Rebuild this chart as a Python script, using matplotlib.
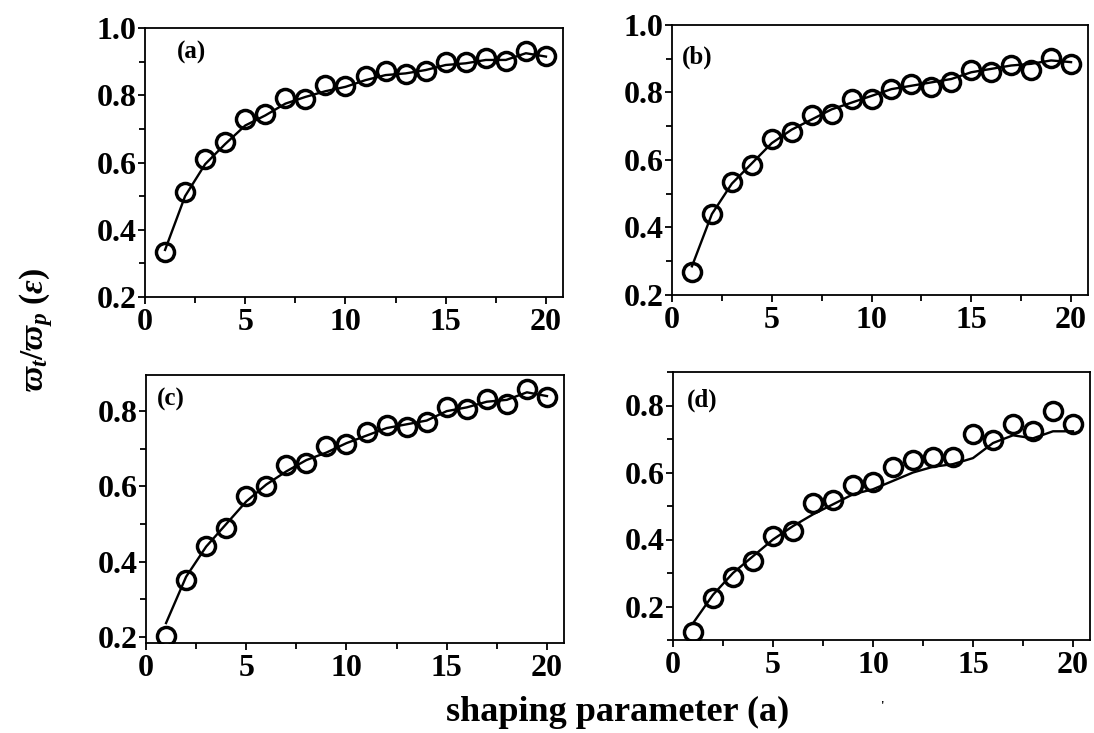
import matplotlib
matplotlib.use("Agg")
import matplotlib.pyplot as plt
from matplotlib.ticker import MultipleLocator

# shaping parameter values
a_vals = list(range(1, 21))

# measured ratios (open circles)
meas_a = [0.335, 0.511, 0.609, 0.661, 0.730, 0.743, 0.793, 0.790, 0.830, 0.828,
          0.856, 0.873, 0.863, 0.873, 0.900, 0.900, 0.910, 0.903, 0.933, 0.918]
meas_b = [0.267, 0.439, 0.534, 0.586, 0.661, 0.683, 0.733, 0.736, 0.781, 0.781,
          0.811, 0.826, 0.816, 0.831, 0.866, 0.861, 0.881, 0.866, 0.903, 0.883]
meas_c = [0.203, 0.351, 0.442, 0.489, 0.574, 0.601, 0.657, 0.661, 0.707, 0.714,
          0.745, 0.763, 0.758, 0.772, 0.811, 0.807, 0.831, 0.820, 0.860, 0.838]
meas_d = [0.123, 0.226, 0.288, 0.337, 0.411, 0.426, 0.509, 0.519, 0.564, 0.573,
          0.616, 0.637, 0.645, 0.647, 0.714, 0.697, 0.746, 0.724, 0.785, 0.744]

# model curves (solid lines)
model_a = [0.340, 0.500, 0.595, 0.655, 0.710, 0.740, 0.775, 0.795, 0.812, 0.825,
           0.845, 0.860, 0.865, 0.875, 0.890, 0.895, 0.905, 0.905, 0.925, 0.915]
model_b = [0.285, 0.440, 0.530, 0.590, 0.650, 0.690, 0.720, 0.750, 0.770, 0.790,
           0.810, 0.820, 0.830, 0.840, 0.860, 0.870, 0.880, 0.885, 0.895, 0.890]
model_c = [0.237, 0.360, 0.440, 0.500, 0.560, 0.605, 0.640, 0.670, 0.690, 0.715,
           0.735, 0.755, 0.765, 0.775, 0.800, 0.810, 0.825, 0.830, 0.850, 0.840]
model_d = [0.150, 0.235, 0.300, 0.350, 0.400, 0.440, 0.475, 0.505, 0.535, 0.550,
           0.575, 0.600, 0.617, 0.625, 0.643, 0.688, 0.711, 0.702, 0.723, 0.723]

panel_tags = ["(a)", "(b)", "(c)", "(d)"]
y_limits = [(0.2, 1.0), (0.2, 1.0), (0.184, 0.896), (0.1, 0.9)]
y_major = [[0.2, 0.4, 0.6, 0.8, 1.0], [0.2, 0.4, 0.6, 0.8, 1.0],
           [0.2, 0.4, 0.6, 0.8], [0.2, 0.4, 0.6, 0.8]]

plt.rcParams["font.family"] = ["Liberation Serif", "DejaVu Serif"]
plt.rcParams["font.weight"] = "bold"
plt.rcParams["mathtext.fontset"] = "custom"
plt.rcParams["mathtext.rm"] = "Liberation Serif:bold"
plt.rcParams["mathtext.it"] = "Liberation Serif:italic:bold"
plt.rcParams["mathtext.bf"] = "Liberation Serif:italic:bold"

fig = plt.figure(figsize=(10.94, 7.33), dpi=100)
W, H = 1094, 733
boxes = [(145, 28, 563, 297), (672, 25, 1088, 295),
         (146, 375, 564, 643), (673, 372, 1090, 640)]
tag_pos = [(0.077, 0.909), (0.024, 0.88), (0.026, 0.91), (0.034, 0.896)]

meas = [meas_a, meas_b, meas_c, meas_d]
model = [model_a, model_b, model_c, model_d]

for i in range(4):
    l, t, r, b = boxes[i]
    ax = fig.add_axes([l / W, 1 - b / H, (r - l) / W, (b - t) / H])
    ax.plot(a_vals, model[i], color="black", lw=1.7, zorder=2)
    ax.plot(a_vals, meas[i], linestyle="none", marker="o", markersize=13,
            markerfacecolor="none", markeredgecolor="black", markeredgewidth=2.5,
            zorder=3)
    ax.set_xlim(0, 20.85)
    ax.set_ylim(*y_limits[i])
    ax.set_xticks([0, 5, 10, 15, 20])
    ax.xaxis.set_minor_locator(MultipleLocator(2.5))
    ax.set_yticks(y_major[i])
    ax.yaxis.set_minor_locator(MultipleLocator(0.1))
    ax.tick_params(which="both", direction="out", top=False, right=False,
                   width=1.3, labelsize=23)
    ax.tick_params(axis="y", pad=1)
    ax.tick_params(axis="x", pad=3)
    ax.tick_params(which="major", length=5)
    ax.tick_params(which="minor", length=4)
    for lab in ax.get_xticklabels() + ax.get_yticklabels():
        lab.set_fontweight("bold")
    for sp in ax.spines.values():
        sp.set_linewidth(1.3)
    ax.text(tag_pos[i][0], tag_pos[i][1], panel_tags[i], transform=ax.transAxes,
            ha="left", va="center", fontsize=18, fontweight="bold")

fig.text(618 / W, 1 - 712 / H, "shaping parameter (a)", ha="center", va="center",
         fontsize=26, fontweight="bold")
fig.text(36 / W, 1 - 330 / H, r"$\varpi_t/\varpi_p$ ($\epsilon$)",
         rotation=90, ha="center", va="center", fontsize=24, fontweight="bold")
fig.text(882 / W, 1 - 706 / H, "'", ha="center", va="center", fontsize=9,
         fontweight="bold")

fig.savefig("out.png", dpi=100)
